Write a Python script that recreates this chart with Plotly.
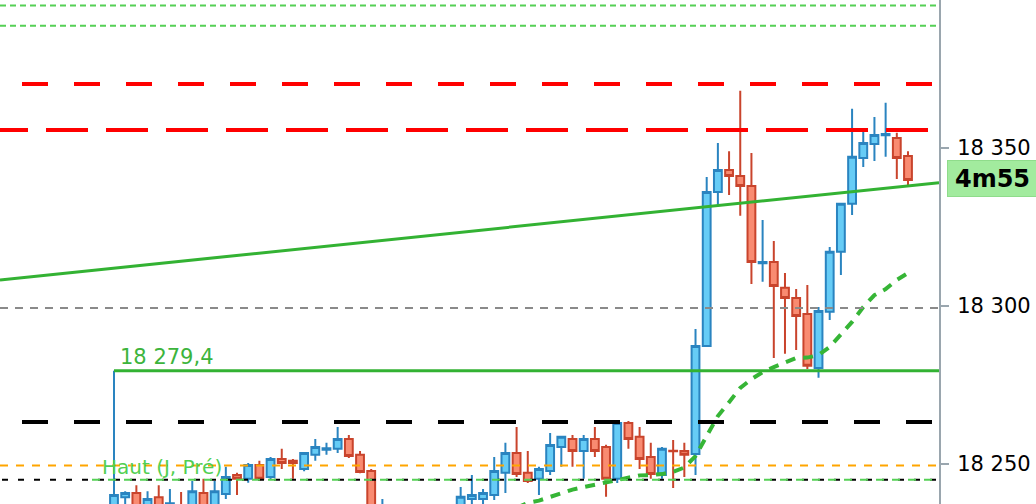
import plotly.graph_objects as go

# ---------------- data ----------------
candle_idx = list(range(72))
opens = [
    18235.0, 18239.4, 18240.7, 18235.0, 18239.4, 18234.0, 18236.5, 18234.0, 18240.7, 18235.0,
    18240.4, 18246.4, 18245.2, 18249.6, 18245.8, 18251.5, 18250.9, 18248.3, 18252.8, 18254.4,
    18254.7, 18257.8, 18252.8, 18247.7, 18232.0, 18233.0, 18228.0, 18224.0, 18227.0, 18230.0,
    18226.0, 18232.0, 18238.8, 18238.8, 18240.1, 18247.1, 18253.4, 18247.1, 18245.2, 18247.7,
    18255.3, 18257.8, 18254.0, 18257.8, 18255.3, 18245.2, 18262.9, 18258.5, 18252.1, 18246.4,
    18254.1, 18254.0, 18253.1, 18287.3, 18336.1, 18343.0, 18341.1, 18338.0, 18313.5, 18313.9,
    18305.7, 18302.5, 18297.4, 18280.3, 18298.1, 18317.1, 18332.3, 18346.8, 18351.3, 18354.0,
    18353.2, 18347.5]
highs = [
    18279.4, 18241.3, 18243.2, 18241.3, 18243.2, 18242.0, 18241.0, 18244.5, 18245.2, 18244.5,
    18249.0, 18247.1, 18250.2, 18250.9, 18252.1, 18254.7, 18251.5, 18253.6, 18257.8, 18256.6,
    18261.6, 18259.1, 18254.0, 18248.3, 18238.8, 18235.0, 18231.0, 18229.0, 18232.0, 18234.0,
    18233.0, 18242.6, 18246.4, 18242.0, 18252.1, 18256.6, 18261.6, 18254.0, 18249.0, 18259.7,
    18258.8, 18259.1, 18259.1, 18261.6, 18256.0, 18263.5, 18263.5, 18261.6, 18256.6, 18255.3,
    18257.5, 18256.6, 18292.7, 18340.8, 18351.6, 18349.0, 18368.1, 18348.4, 18327.2, 18320.5,
    18310.4, 18305.3, 18306.6, 18299.6, 18318.6, 18332.5, 18362.4, 18355.1, 18359.8, 18364.3,
    18354.8, 18349.0]
lows = [
    18233.0, 18236.0, 18234.0, 18233.0, 18233.0, 18232.0, 18232.0, 18232.0, 18233.0, 18233.0,
    18238.8, 18240.1, 18244.0, 18244.5, 18245.0, 18248.3, 18245.2, 18247.6, 18250.9, 18252.8,
    18253.4, 18251.8, 18247.0, 18231.0, 18230.0, 18226.0, 18222.0, 18220.0, 18224.0, 18225.0,
    18224.0, 18230.0, 18235.0, 18237.0, 18238.5, 18240.7, 18245.8, 18243.9, 18240.1, 18246.4,
    18249.0, 18249.0, 18245.2, 18252.1, 18239.5, 18243.9, 18254.7, 18248.3, 18245.2, 18245.2,
    18242.3, 18245.8, 18246.4, 18287.0, 18332.0, 18335.1, 18328.5, 18306.9, 18307.6, 18283.5,
    18284.8, 18286.0, 18280.0, 18277.2, 18295.5, 18309.8, 18328.8, 18344.0, 18345.9, 18347.2,
    18340.2, 18338.0]
closes = [
    18240.1, 18240.7, 18236.0, 18238.8, 18235.0, 18237.5, 18234.0, 18241.3, 18235.0, 18241.3,
    18245.8, 18245.2, 18249.6, 18245.2, 18251.5, 18250.2, 18250.2, 18253.4, 18255.3, 18254.9,
    18257.8, 18252.4, 18247.4, 18233.0, 18236.0, 18228.0, 18224.0, 18227.0, 18230.0, 18226.0,
    18232.0, 18239.5, 18240.1, 18240.7, 18247.7, 18253.4, 18246.7, 18244.5, 18248.3, 18255.9,
    18258.5, 18254.0, 18257.8, 18254.0, 18245.2, 18262.9, 18257.8, 18251.5, 18246.7, 18254.7,
    18253.9, 18252.8, 18287.3, 18336.1, 18343.0, 18341.1, 18338.0, 18313.9, 18313.9, 18306.3,
    18302.5, 18296.8, 18281.0, 18298.4, 18317.1, 18332.3, 18347.2, 18351.6, 18354.1, 18354.4,
    18346.8, 18339.9]

ma_idx = list(range(36, 72))
ma_vals = [
    18236.0, 18237.6, 18238.3, 18239.5, 18240.7, 18241.8, 18242.6, 18243.4, 18243.9, 18244.8,
    18245.8, 18246.3, 18246.4, 18246.7, 18247.4, 18248.8, 18252.4, 18258.8, 18265.1, 18269.5,
    18274.0, 18276.8, 18279.0, 18280.6, 18282.2, 18283.5, 18283.6, 18284.4, 18287.0, 18290.8,
    18294.9, 18299.6, 18303.4, 18305.3, 18308.2, 18310.4]

top_green_levels = [18395.1, 18388.7]
red_level_a = 18370.3
red_level_b = 18355.7
black_level = 18263.2
grey_level = 18299.3
high_level = 18279.4
orange_level = 18249.4
prev_high_level = 18244.9
trend_ends = [18308.2, 18339.0]

y_ticks = [18250, 18300, 18350]
y_tick_text = ["18 250", "18 300", "18 350"]
high_label = "18 279,4"
prev_high_label = "Haut (J, Pré)"
timer_label = "4m55"

# ---------------- layout geometry ----------------
W, H = 1036, 504
plot_w = 939
px_per_bar = 11.183
first_px = 114.0


def idx(px):
    return (px - first_px) / px_per_bar


x_range = [idx(0), idx(plot_w)]
y_range = [18237.23, 18396.88]

fig = go.Figure()

fig.add_trace(go.Candlestick(
    x=candle_idx, open=opens, high=highs, low=lows, close=closes,
    increasing=dict(line=dict(color="#2a84c0", width=2), fillcolor="#66ccf6"),
    decreasing=dict(line=dict(color="#c9442c", width=2), fillcolor="#f98b71"),
    whiskerwidth=0, hoverinfo="skip", showlegend=False,
))

fig.add_trace(go.Scatter(
    x=ma_idx, y=ma_vals, mode="lines",
    line=dict(color="#36b536", width=4, dash="10px,8px"),
    hoverinfo="skip", showlegend=False,
))

shapes = []


def hline(y, color, width, dash="solid", x0px=0):
    shapes.append(dict(type="line", xref="x", yref="y",
                       x0=idx(x0px), x1=x_range[1] + 1, y0=y, y1=y,
                       line=dict(color=color, width=width, dash=dash)))


for lv in top_green_levels:
    hline(lv, "#55d055", 2, "6px,4px")
hline(red_level_a, "#ff0000", 4, "26px,26px", x0px=22)
hline(red_level_b, "#ff0000", 4, "42px,18px", x0px=-14)
hline(grey_level, "#8a8a8a", 2, "8px,7px")
hline(black_level, "#000000", 4, "26px,26px", x0px=22)
hline(orange_level, "#ffa500", 2, "8px,8px")
hline(prev_high_level, "#000000", 2, "6px,10px", x0px=2)
hline(prev_high_level, "#55d055", 2, "8px,8px", x0px=92)
# level from the high of the first candle
shapes.append(dict(type="line", xref="x", yref="y",
                   x0=candle_idx[0], x1=x_range[1] + 1, y0=high_level, y1=high_level,
                   line=dict(color="#33b233", width=3)))
# sloped trend line
shapes.append(dict(type="line", xref="x", yref="y",
                   x0=x_range[0], x1=x_range[1], y0=trend_ends[0], y1=trend_ends[1],
                   line=dict(color="#33b233", width=3)))

fig.update_layout(
    width=W, height=H,
    margin=dict(l=0, r=W - plot_w, t=0, b=0),
    paper_bgcolor="white", plot_bgcolor="white",
    showlegend=False,
    boxgap=0.3, boxgroupgap=0,
    shapes=shapes,
    font=dict(family="DejaVu Sans", color="black"),
    xaxis=dict(range=x_range, visible=False, rangeslider=dict(visible=False),
               showgrid=False, zeroline=False, fixedrange=True),
    yaxis=dict(range=y_range, side="right", showgrid=False, zeroline=False,
               showline=True, linecolor="#9aa6ae", linewidth=2,
               ticks="outside", ticklen=8, tickwidth=2, tickcolor="#9aa6ae",
               tickvals=y_ticks, ticktext=y_tick_text,
               tickfont=dict(family="DejaVu Sans", size=21, color="black"),
               ticklabelstandoff=4, fixedrange=True),
    annotations=[
        dict(x=candle_idx[0], y=high_level, xref="x", yref="y",
             text=high_label, showarrow=False, xanchor="left", yanchor="bottom",
             xshift=4, yshift=0,
             font=dict(family="DejaVu Sans", size=21, color="#3cb43c")),
        dict(x=102 / plot_w, y=orange_level, xref="paper", yref="y",
             text=prev_high_label, showarrow=False, xanchor="left", yanchor="middle",
             xshift=-2, yshift=-1,
             font=dict(family="DejaVu Sans", size=20, color="#52cf52")),
        dict(x=1 + 8 / plot_w, y=18340.3, xref="paper", yref="y",
             text="<b>" + timer_label + "</b>", showarrow=False,
             xanchor="left", yanchor="middle", width=87, height=33,
             bgcolor="#a2eb9e", bordercolor="#8fdc8b", borderwidth=1,
             align="center",
             font=dict(family="DejaVu Sans", size=24, color="black")),
    ],
)

fig.write_html(
    "out.html",
    config={"displayModeBar": False},
    post_script="document.body.style.margin='0';document.body.style.overflow='hidden';",
)
